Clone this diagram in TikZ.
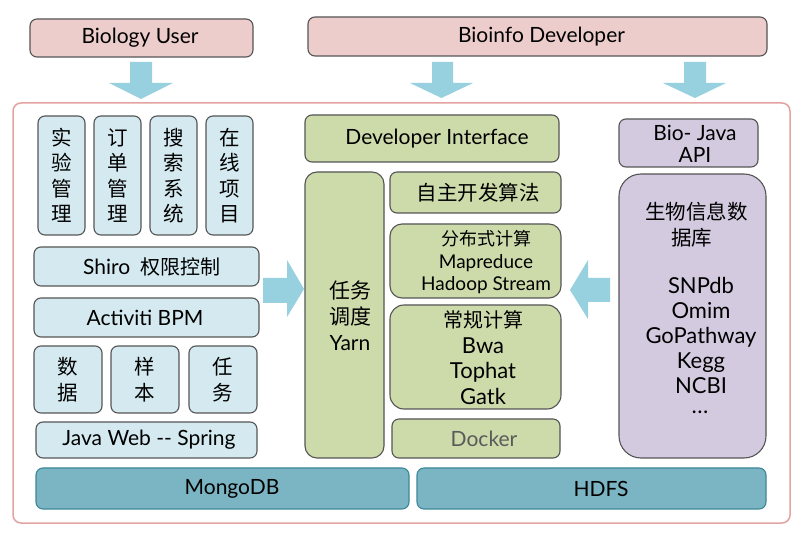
\documentclass[tikz,border=0pt]{standalone}
\usepackage{fontspec}
\setmainfont{Lato}
\newfontfamily\cjk{Noto Sans CJK SC}
\definecolor{pinkfill}{HTML}{EDCDCC}
\definecolor{bluefill}{HTML}{D4EAF0}
\definecolor{greenfill}{HTML}{CDDBAB}
\definecolor{purplefill}{HTML}{D4CAE0}
\definecolor{tealfill}{HTML}{7BB5C4}
\definecolor{tealline}{HTML}{3B8797}
\definecolor{arrowfill}{HTML}{97D0DE}
\definecolor{frameline}{HTML}{E3A3A0}
\definecolor{boxline}{HTML}{555555}
\definecolor{graytext}{HTML}{5A5A5A}
\begin{document}
\begin{tikzpicture}[x=1pt,y=-1pt,
  box/.style={draw=boxline, line width=1.1pt, rounded corners=7pt, inner sep=0pt, align=center,
    font=\fontsize{21}{25}\selectfont},
  userbox/.style={box, fill=pinkfill},
  bluebox/.style={box, fill=bluefill},
  greenbox/.style={box, fill=greenfill},
  purplebox/.style={box, fill=purplefill},
  tealbox/.style={box, fill=tealfill, draw=tealline},
  txt/.style={inner sep=0pt, align=center, font=\fontsize{21}{25}\selectfont},
  cj/.style={inner sep=0pt, align=center, font=\cjk\fontsize{20.5}{25.5}\selectfont},
  blockarrow/.style={fill=arrowfill, draw=none}
]
\useasboundingbox (0,0) rectangle (801,534);
\fill[white] (0,0) rectangle (801,534);

% top users
\node[userbox, minimum width=223pt, minimum height=38pt] (bio) at (141.5,38) {};
\node[txt] (biot) at (140,38) {Biology User};
\node[userbox, minimum width=459pt, minimum height=39pt] (dev) at (537.5,36.5) {};
\node[txt] (devt) at (541.5,36.5) {Bioinfo Developer};

% down arrows
\fill[blockarrow] (130,62) -- (152,62) -- (152,83) -- (173,83) -- (141,99) -- (109,83) -- (130,83) -- cycle;
\fill[blockarrow] (432,62) -- (453,62) -- (453,83) -- (473,83) -- (441.5,98) -- (410,83) -- (432,83) -- cycle;
\fill[blockarrow] (684,62) -- (706,62) -- (706,83) -- (726,83) -- (695,98) -- (663,83) -- (684,83) -- cycle;

% outer frame
\draw[frameline, line width=1.5pt, rounded corners=8pt] (13,103) rectangle (790,523);

% left column
\node[bluebox, minimum width=47pt, minimum height=119pt] (v1) at (61.5,175.5) {};
\node[cj] at (61.5,175.5) {实\\验\\管\\理};
\node[bluebox, minimum width=47pt, minimum height=119pt] (v2) at (117.5,175.5) {};
\node[cj] at (117.5,175.5) {订\\单\\管\\理};
\node[bluebox, minimum width=47pt, minimum height=119pt] (v3) at (173.5,175.5) {};
\node[cj] at (173.5,175.5) {搜\\索\\系\\统};
\node[bluebox, minimum width=47pt, minimum height=119pt] (v4) at (229.5,175.5) {};
\node[cj] at (229.5,175.5) {在\\线\\项\\目};

\node[bluebox, minimum width=225pt, minimum height=39pt] (shiro) at (146.5,266.5) {};
\node[txt] at (152,266.5) {Shiro\ \ {\cjk\fontsize{20}{24}\selectfont 权限控制}};
\node[bluebox, minimum width=225pt, minimum height=39pt] (activiti) at (146.5,317.5) {};
\node[txt] at (145,317.5) {Activiti BPM};

\node[bluebox, minimum width=68pt, minimum height=67pt] (d1) at (68,379.5) {};
\node[cj] at (68,379.5) {数\\据};
\node[bluebox, minimum width=68pt, minimum height=67pt] (d2) at (145,379.5) {};
\node[cj] at (145,379.5) {样\\本};
\node[bluebox, minimum width=68pt, minimum height=67pt] (d3) at (223,379.5) {};
\node[cj] at (223,379.5) {任\\务};

\node[bluebox, minimum width=221pt, minimum height=36pt] (javaweb) at (146.5,440) {};
\node[txt] at (149,440) {Java Web -{}- Spring};

% storage
\node[tealbox, minimum width=373pt, minimum height=41pt] (mongo) at (222.5,488.5) {};
\node[txt] at (232,488.5) {MongoDB};
\node[tealbox, minimum width=349pt, minimum height=41pt] (hdfs) at (591.5,488.5) {};
\node[txt] at (601,488.5) {HDFS};

% center column
\node[greenbox, minimum width=254pt, minimum height=47pt] (devif) at (432,138.5) {};
\node[txt] at (437,138.5) {Developer Interface};
\node[greenbox, rounded corners=12pt, minimum width=79pt, minimum height=286pt] (yarn) at (344.5,315) {};
\node[txt, font=\fontsize{21}{26}\selectfont] at (350,316) {{\cjk 任务}\\{\cjk 调度}\\Yarn};
\node[greenbox, minimum width=171pt, minimum height=41pt] (zizhu) at (475.5,192.5) {};
\node[cj] at (478,192.5) {自主开发算法};
\node[greenbox, rounded corners=12pt, minimum width=171pt, minimum height=74pt] (fenbu) at (475.5,261) {};
\node[txt, font=\fontsize{19}{22.5}\selectfont] at (486,262.5) {{\cjk\fontsize{18}{22.5}\selectfont 分布式计算}\\Mapreduce\\Hadoop Stream};
\node[greenbox, rounded corners=14pt, minimum width=171pt, minimum height=104pt] (changgui) at (475.5,357) {};
\node[txt, font=\fontsize{22}{25.5}\selectfont] at (483,357.5) {{\cjk\fontsize{20}{25.5}\selectfont 常规计算}\\Bwa\\Tophat\\Gatk};
\node[greenbox, minimum width=168pt, minimum height=39pt] (docker) at (476,438.5) {};
\node[txt, text=graytext] at (484,438.5) {Docker};

% right column
\node[purplebox, minimum width=139pt, minimum height=48pt] (biojava) at (688.5,143) {};
\node[txt, font=\fontsize{21}{22}\selectfont] at (695,144) {Bio- Java\\API};
\node[purplebox, rounded corners=22pt, minimum width=147pt, minimum height=284pt] (db) at (692.5,316) {};
\node[cj, anchor=north west, align=left] at (645,202) {生物信息数\\\hspace*{26pt}据库};
\node[txt, anchor=north, font=\fontsize{22}{25}\selectfont] (dblist) at (701,277) {SNPdb\\Omim\\GoPathway\\Kegg\\NCBI};
\node[txt, font=\bfseries\fontsize{18}{18}\selectfont] (dbdots) at (700,412) {.\kern1.5pt.\kern1.5pt.};

% side arrows
\fill[blockarrow] (263,278) -- (287,278) -- (287,260) -- (304,289) -- (287,317) -- (287,303) -- (263,303) -- cycle;
\fill[blockarrow] (610,278) -- (588,278) -- (588,260) -- (570,290) -- (588,319) -- (588,302) -- (610,302) -- cycle;
\end{tikzpicture}
\end{document}
